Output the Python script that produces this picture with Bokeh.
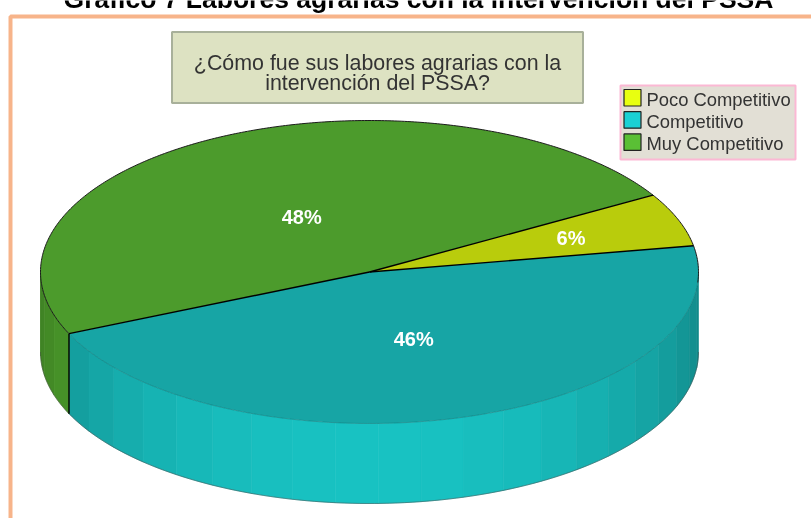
import numpy as np
from bokeh.plotting import figure
from bokeh.models import Range1d
from bokeh.core.properties import value
from bokeh.embed import file_html
from bokeh.resources import INLINE

W, H = 811, 518
title = "Gráfico 7 Labores agrarias con la intervención del PSSA"
question = ["¿Cómo fue sus labores agrarias con la", "intervención del PSSA?"]
categories = ["Poco Competitivo", "Competitivo", "Muy Competitivo"]
shares = [5.7, 46.1, 48.2]
labels = ["6%", "46%", "48%"]
top_colors = ["#b9cc0c", "#17a5a5", "#4c9b2c"]
wall_colors = [(185, 204, 12), (25, 195, 195), (90, 185, 52)]
swatch_colors = ["#e8ff10", "#1ad0d4", "#5abf35"]

# pie geometry (screen pixels)
CX, CY, RX, RY, DEPTH = 369, 271.5, 329, 151.5, 80
START = 30.5
STRIP = 7.5

p = figure(width=W, height=H, output_backend="svg", toolbar_location=None,
           x_range=Range1d(0, W), y_range=Range1d(H, 0),
           min_border=0, outline_line_color=None, background_fill_color="white",
           border_fill_color="white",
           styles={"position": "fixed", "left": "0px", "top": "0px"})
p.axis.visible = False
p.grid.visible = False

def ex(a):
    return CX + RX * np.cos(np.radians(a))

def ey(a, d=0):
    return CY - RY * np.sin(np.radians(a)) + d

# slice angles, clockwise from START
sweep = np.array(shares) / sum(shares) * 360
ends = START - np.cumsum(sweep)
starts = np.concatenate([[START], ends[:-1]])

# frame
p.line([10, 10, W], [H, 16, 16], line_color="#f7b48a", line_width=4)

# title: the reference cuts off its upper part at the top edge of the picture
p.text([418], [-2], text=[title], text_font=value("Liberation Sans"), text_font_style="bold",
       text_font_size="26.5px", text_align="center", text_baseline="middle", text_color="black")

# question box
p.quad(left=[171.5], right=[582.5], top=[31.5], bottom=[102.5], fill_color="#dde2c2",
       line_color="#a8b09a", line_width=2)
p.text([377, 377], [62, 82], text=question, text_font=value("Liberation Sans"),
       text_font_size="21.4px", text_align="center", text_baseline="middle", text_color="#333333")

# legend
p.quad(left=[620], right=[795], top=[85], bottom=[159], fill_color="#e2dfd5",
       line_color="#fbb8d4", line_width=2)
for i, (c, col) in enumerate(zip(categories, swatch_colors)):
    y = 89 + 22.2 * i
    p.quad(left=[623.5], right=[640.5], top=[y], bottom=[y + 16.5], fill_color=col,
           line_color="#222222", line_width=1.2)
    p.text([646], [y + 9.5], text=[c], text_font=value("Liberation Sans"), text_font_size="18.4px",
           text_align="left", text_baseline="middle", text_color="#333333")

# side walls: only the front half of the pie is visible, split in shaded strips
for s, e, rgb in zip(starts, ends, wall_colors):
    lo, hi = e, s
    # bring angles into the window [-180, 0]
    while hi > 0 and lo > 0:
        lo -= 360; hi -= 360
    lo_v, hi_v = max(lo, -180), min(hi, 0)
    if lo_v >= hi_v:
        continue
    # strips are anchored on the cut between the front slices
    anchor = ends[1]
    k0 = int(np.floor((lo_v - anchor) / STRIP))
    edges = [anchor + STRIP * k for k in range(k0, k0 + 40)]
    edges = [lo_v] + [v for v in edges if lo_v < v < hi_v] + [hi_v]
    for a, b in zip(edges[:-1], edges[1:]):
        t = np.linspace(a, b, 6)
        mid = (a + b) / 2
        light = 0.70 + 0.30 * np.clip(np.cos(np.radians(mid + 90)), 0, 1) ** 1.2
        col = "#%02x%02x%02x" % tuple(int(v * light) for v in rgb)
        xs = np.concatenate([ex(t), ex(t[::-1])])
        ys = np.concatenate([ey(t), ey(t[::-1], DEPTH)])
        p.patch(xs, ys, fill_color=col, line_color=col, line_width=0.6)
    # bottom edge
    t = np.linspace(lo_v, hi_v, 120)
    p.line(ex(t), ey(t, DEPTH), line_color="#444444", line_width=0.7, line_alpha=0.7)

# top surface
for s, e, col in zip(starts, ends, top_colors):
    t = np.linspace(s, e, 200)
    p.patch(np.concatenate([[CX], ex(t)]), np.concatenate([[CY], ey(t)]),
            fill_color=col, line_color=None)

# outlines of the top surface
t = np.linspace(starts[2], ends[2], 300)
p.line(ex(t), ey(t), line_color="#1c1c1c", line_width=1)
t = np.linspace(starts[0], -4, 60)
p.line(ex(t), ey(t), line_color="#1c1c1c", line_width=1)
t = np.linspace(-4, starts[2], 200)
p.line(ex(t), ey(t), line_color="#0e6a6a", line_width=0.6, line_alpha=0.7)
for a in starts:
    p.line([CX, ex(a)], [CY, ey(a)], line_color="black", line_width=1.4)
# the vertical cut between the walls
p.line([ex(ends[1]), ex(ends[1])], [ey(ends[1]), ey(ends[1], DEPTH)], line_color="black", line_width=1.4)

# value labels
label_fx = [0.653, 0.46, 0.45]
label_fy = [0.653, 0.46, 0.41]
mids = (starts + ends) / 2
lx = [CX + RX * f * np.cos(np.radians(m)) for f, m in zip(label_fx, mids)]
ly = [CY - RY * f * np.sin(np.radians(m)) for f, m in zip(label_fy, mids)]
p.text(lx, ly, text=labels, text_font=value("Liberation Sans"), text_font_style="bold",
       text_font_size="20px", text_align="center", text_baseline="middle", text_color="white")

open("out.html", "w").write(file_html(p, INLINE))
